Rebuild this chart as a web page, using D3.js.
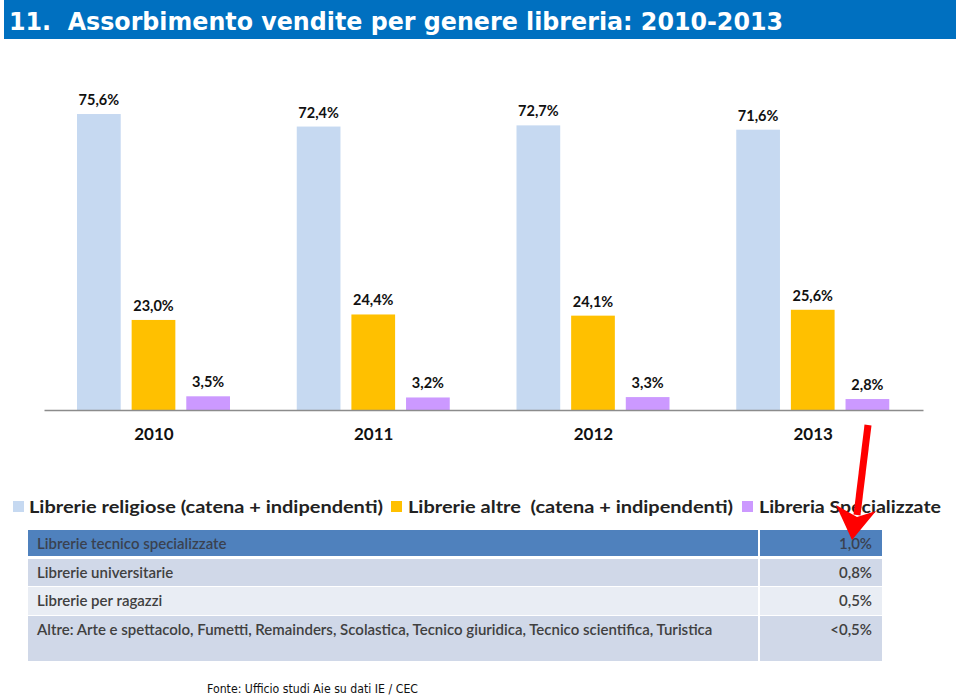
<!DOCTYPE html>
<html><head><meta charset="utf-8">
<script src="https://d3js.org/d3.v7.min.js"></script>
<style>body{margin:0;background:#fff;}svg{display:block;}</style>
</head><body>
<script>
const titleText = "11.\u00A0\u00A0Assorbimento vendite per genere libreria: 2010-2013";
const years = ["2010", "2011", "2012", "2013"];
const seriesNames = ["Librerie religiose (catena + indipendenti)", "Librerie altre\u00A0\u00A0(catena + indipendenti)", "Libreria Specializzate"];
const religiose = [75.6, 72.4, 72.7, 71.6];
const altre = [23.0, 24.4, 24.1, 25.6];
const specializzate = [3.5, 3.2, 3.3, 2.8];
const seriesColors = ["#C6D9F1", "#FFC000", "#CC99FF"];
const tableLabels = ["Librerie tecnico specializzate", "Librerie universitarie", "Librerie per ragazzi",
  "Altre: Arte e spettacolo, Fumetti, Remainders, Scolastica, Tecnico giuridica, Tecnico scientifica, Turistica"];
const tableValues = ["1,0%", "0,8%", "0,5%", "<0,5%"];
const sourceText = "Fonte: Ufficio studi Aie su dati IE / CEC";

const W = 960, H = 696;
const svg = d3.select("body").append("svg").attr("width", W).attr("height", H);
const FONT = "Lato, 'Open Sans', sans-serif";

// Title bar
svg.append("rect").attr("x", 4).attr("y", 0).attr("width", 952).attr("height", 39).attr("fill", "#0070C0");
svg.append("text").attr("x", 9).attr("y", 30).attr("fill", "#fff")
  .attr("font-family", "'DejaVu Sans', Verdana, sans-serif").attr("font-weight", "bold")
  .attr("font-size", 25).attr("textLength", 774).attr("lengthAdjust", "spacingAndGlyphs")
  .text(titleText);

// Scales
const baseY = 410;
const x0 = d3.scaleBand().domain(years).range([44, 923]);
const x1 = d3.scaleBand().domain([0, 1, 2]).range([33, 186]).paddingInner(0.2);
const y = d3.scaleLinear().domain([0, 100]).range([baseY, baseY - 391.5]);

const data = years.map((yr, i) => ({ year: yr, vals: [religiose[i], altre[i], specializzate[i]] }));
const fmt = v => d3.format(".1f")(v).replace(".", ",") + "%";

const g = svg.append("g");
const groups = g.selectAll("g.grp").data(data).join("g").attr("class", "grp")
  .attr("transform", d => `translate(${x0(d.year)},0)`);
groups.selectAll("rect").data(d => d.vals.map((v, k) => ({ v, k }))).join("rect")
  .attr("x", d => x1(d.k)).attr("width", x1.bandwidth())
  .attr("y", d => y(d.v)).attr("height", d => y(0) - y(d.v))
  .attr("fill", d => seriesColors[d.k]);
groups.selectAll("text.val").data(d => d.vals.map((v, k) => ({ v, k }))).join("text").attr("class", "val")
  .attr("x", d => x1(d.k) + x1.bandwidth() / 2).attr("y", d => y(d.v) - 9)
  .attr("text-anchor", "middle").attr("font-family", FONT).attr("font-weight", "bold")
  .attr("font-size", 14.5).attr("fill", "#111").text(d => fmt(d.v));

// Axis
const axis = svg.append("g").attr("transform", `translate(0,${baseY})`)
  .call(d3.axisBottom(x0).tickSizeInner(0).tickSizeOuter(0).tickPadding(18));
axis.select(".domain").attr("stroke", "#8c8c8c").attr("stroke-width", 1.5);
axis.selectAll("text").attr("font-family", FONT).attr("font-weight", "bold").attr("font-size", 17).attr("fill", "#111");

// Legend
const legendItems = [
  { sq: 13, tx: 29, w: 354 },
  { sq: 391, tx: 408, w: 325 },
  { sq: 742, tx: 759, w: 182 }
];
const leg = svg.append("g");
legendItems.forEach((it, i) => {
  leg.append("rect").attr("x", it.sq).attr("y", 501).attr("width", 11).attr("height", 11).attr("fill", seriesColors[i]);
  leg.append("text").attr("x", it.tx).attr("y", 513).attr("font-family", FONT).attr("font-weight", "bold")
    .attr("font-size", 17.5).attr("fill", "#222").attr("textLength", it.w).attr("lengthAdjust", "spacingAndGlyphs")
    .text(seriesNames[i]);
});

// Table
const rows = [
  { y: 530, h: 26, fill: "#4F81BD" },
  { y: 559, h: 27, fill: "#D0D8E8" },
  { y: 587, h: 28, fill: "#E9EDF4" },
  { y: 616, h: 45, fill: "#D0D8E8" }
];
const tbl = svg.append("g");
rows.forEach((r, i) => {
  tbl.append("rect").attr("x", 28).attr("y", r.y).attr("width", 730).attr("height", r.h).attr("fill", r.fill);
  tbl.append("rect").attr("x", 760).attr("y", r.y).attr("width", 122).attr("height", r.h).attr("fill", r.fill);
  const by = r.y + 19;
  tbl.append("text").attr("x", 37).attr("y", by).attr("font-family", FONT).attr("font-weight", 600)
    .attr("font-size", 15).attr("fill", i === 0 ? "#3a4150" : "#404040").text(tableLabels[i]);
  tbl.append("text").attr("x", 872).attr("y", by).attr("text-anchor", "end").attr("font-family", FONT).attr("font-weight", 600)
    .attr("font-size", 15).attr("fill", i === 0 ? "#3a4150" : "#404040").text(tableValues[i]);
});

// Source
svg.append("text").attr("x", 207).attr("y", 693).attr("font-family", "'DejaVu Sans', Verdana, sans-serif")
  .attr("font-size", 11.5).attr("fill", "#111").attr("textLength", 211).attr("lengthAdjust", "spacingAndGlyphs")
  .text(sourceText);

// Red arrow annotation
const arr = svg.append("g");
arr.append("line").attr("x1", 868).attr("y1", 425).attr("x2", 857).attr("y2", 515)
  .attr("stroke", "#FF0000").attr("stroke-width", 7);
arr.append("path").attr("d", "M836,505 L852,540 L876,511 L857,517 Z").attr("fill", "#FF0000");
</script>
</body></html>
